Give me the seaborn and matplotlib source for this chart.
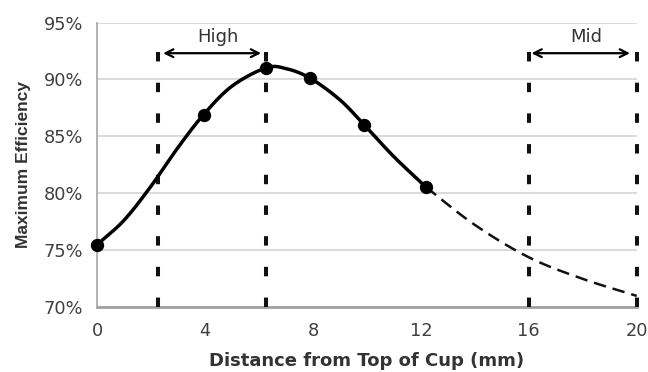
import matplotlib
matplotlib.use("Agg")
import matplotlib.pyplot as plt
import numpy as np
import seaborn as sns

# Measured efficiency at each cup distance (mm, %)
meas_x = [0, 3.95, 6.25, 7.9, 9.9, 12.2]
meas_y = [75.45, 86.9, 91.0, 90.1, 86.0, 80.5]

# Model curve across the measured range
curve_x = [0, 1, 2, 3, 3.95, 5, 6.25, 7, 7.9, 9, 9.9, 11, 12.2]
curve_y = [75.45, 77.6, 80.6, 84.0, 86.9, 89.4, 91.0, 90.95, 90.1, 88.2,
           86.0, 83.2, 80.5]

# Extrapolated part of the model
extra_x = [12.2, 14, 16, 18, 20]
extra_y = [80.5, 77.2, 74.35, 72.45, 70.95]

# Region boundaries and their labels
region_bounds = [2.25, 6.25, 16, 20]
region_labels = ["High", "Mid"]

x_ticks = [0, 4, 8, 12, 16, 20]
y_ticks = [70, 75, 80, 85, 90, 95]


def smooth_path(xs, ys, steps=20):
    """Catmull-Rom rendering of a polyline so the drawn line has no corners."""
    p = np.column_stack([xs, ys]).astype(float)
    p = np.vstack([2 * p[0] - p[1], p, 2 * p[-1] - p[-2]])
    out = []
    t = np.linspace(0, 1, steps, endpoint=False)[:, None]
    for i in range(1, len(p) - 2):
        p0, p1, p2, p3 = p[i - 1], p[i], p[i + 1], p[i + 2]
        seg = 0.5 * ((2 * p1) + (-p0 + p2) * t
                     + (2 * p0 - 5 * p1 + 4 * p2 - p3) * t ** 2
                     + (-p0 + 3 * p1 - 3 * p2 + p3) * t ** 3)
        out.append(seg)
    out.append(p[-2][None, :])
    out = np.vstack(out)
    return out[:, 0], out[:, 1]


sns.set_style("white")
plt.rcParams["font.family"] = ["DejaVu Sans"]

fig = plt.figure(figsize=(6.48, 3.72), dpi=100)
ax = fig.add_axes([0.1497, 0.1755, 0.8329, 0.764])

ax.set_xlim(0, 20)
ax.set_ylim(70, 95)

# horizontal grid
for yv in y_ticks[1:]:
    ax.axhline(yv, color="#d4d4d4", lw=1.2, zorder=0)

# region boundary lines
for xb in region_bounds:
    lw = 2.9
    ax.plot([xb, xb], [70, 94.25], color="#111111", lw=lw,
            linestyle=(0, (6.8 / lw, 15.3 / lw)), dash_capstyle="butt",
            zorder=2, clip_on=False)

# model curve
cx, cy = smooth_path(curve_x, curve_y)
sns.lineplot(x=cx, y=cy, ax=ax, color="black", lw=2.5,
             sort=False, estimator=None, zorder=3)
ex, ey = smooth_path(extra_x, extra_y)
lw_e = 1.8
sns.lineplot(x=ex, y=ey, ax=ax, color="#111111", lw=lw_e,
             sort=False, estimator=None, zorder=3,
             linestyle=(0, (9.0 / lw_e, 5.0 / lw_e)))

# measured points
sns.scatterplot(x=meas_x, y=meas_y, ax=ax, s=92, color="black",
                edgecolor="black", linewidth=0, zorder=5, clip_on=False)

# region arrows and labels
arrow_spans = [(2.45, 6.08), (16.1, 19.75)]
for (x0, x1), lab in zip(arrow_spans, region_labels):
    ax.annotate("", xy=(x0, 92.3), xytext=(x1, 92.3),
                arrowprops=dict(arrowstyle="<->", color="black", lw=1.6,
                                mutation_scale=14, shrinkA=0, shrinkB=0))
    ax.text((x0 + x1) / 2 + 0.2, 93.75, lab, ha="center", va="center",
            fontsize=13, color="#333333")

ax.set_xticks(x_ticks)
ax.set_xticklabels([str(v) for v in x_ticks])
ax.set_yticks(y_ticks)
ax.set_yticklabels([f"{v}%" for v in y_ticks])

for side in ["top", "right"]:
    ax.spines[side].set_visible(False)
ax.spines["left"].set_color("#a6a6a6")
ax.spines["left"].set_linewidth(1.2)
ax.spines["bottom"].set_color("#a0a0a0")
ax.spines["bottom"].set_linewidth(2.0)
ax.spines["bottom"].set_zorder(1)

ax.tick_params(axis="both", direction="out", length=4, width=1,
               color="#a6a6a6", labelsize=12.8, labelcolor="#404040")
ax.tick_params(axis="y", pad=6)
ax.tick_params(axis="x", pad=7)

ax.set_xlabel("Distance from Top of Cup (mm)", fontsize=13, fontweight="bold",
              color="#333333", labelpad=9)
ax.set_ylabel("Maximum Efficiency", fontsize=12.5, fontweight="bold",
              color="#333333", labelpad=9, family="Liberation Sans")

fig.savefig("out.png", dpi=100, facecolor="white")
